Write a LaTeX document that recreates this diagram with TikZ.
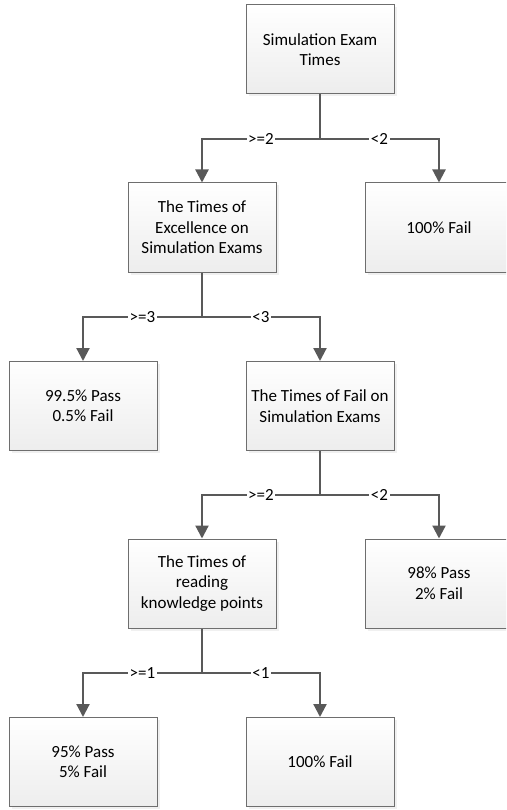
\documentclass[tikz,border=0pt]{standalone}
\usepackage{fontspec}
\setmainfont{Carlito}
\usetikzlibrary{arrows.meta,shadows}

\definecolor{linegray}{HTML}{595959}
\definecolor{boxedge}{HTML}{6E6E6E}
\definecolor{boxbottom}{HTML}{EDEDED}

\tikzset{
  box/.style={draw=boxedge, line width=1pt, minimum width=148pt, minimum height=89pt,
    align=center, inner sep=2pt, top color=white, bottom color=boxbottom,
    font=\fontsize{17}{20.5}\selectfont,
    drop shadow={shadow xshift=2.5pt, shadow yshift=-2.5pt, fill=gray!40, opacity=0.3}},
  link/.style={draw=linegray, line width=2.2pt},
  arrowlink/.style={link, -{Triangle[width=13pt,length=13pt]}},
  cond/.style={fill=white, inner sep=1.5pt, font=\fontsize{17}{19}\selectfont}
}

\begin{document}
\begin{tikzpicture}[x=1pt, y=-1pt]
  \clip (0,0) rectangle (506,810);
  \useasboundingbox (0,0) rectangle (506,810);

  % decision boxes and outcomes
  \node[box] (b1) at (320,49.5)  {Simulation Exam\\Times};
  \node[box] (b2) at (202,227.5) {The Times of\\Excellence on\\Simulation Exams};
  \node[box] (b3) at (439,227.5) {100\% Fail};
  \node[box] (b4) at (83,406)    {99.5\% Pass\\0.5\% Fail};
  \node[box] (b5) at (320,406)   {The Times of Fail on\\Simulation Exams};
  \node[box] (b6) at (202,583.5) {The Times of\\reading\\knowledge points};
  \node[box] (b7) at (439,583.5) {98\% Pass\\2\% Fail};
  \node[box] (b8) at (83,762)    {95\% Pass\\5\% Fail};
  \node[box] (b9) at (320,762)   {100\% Fail};

  % branching points
  \coordinate (j1) at (320,139);
  \coordinate (j2) at (202,317);
  \coordinate (j3) at (320,495);
  \coordinate (j4) at (202,673);

  % level 1
  \draw[link] (b1.south) -- (j1);
  \draw[arrowlink] (j1) -- node[cond] {>=2} (j1 -| b2) -- (b2.north);
  \draw[arrowlink] (j1) -- node[cond] {<2} (j1 -| b3) -- (b3.north);

  % level 2
  \draw[link] (b2.south) -- (j2);
  \draw[arrowlink] (j2) -- node[cond] {>=3} (j2 -| b4) -- (b4.north);
  \draw[arrowlink] (j2) -- node[cond] {<3} (j2 -| b5) -- (b5.north);

  % level 3
  \draw[link] (b5.south) -- (j3);
  \draw[arrowlink] (j3) -- node[cond] {>=2} (j3 -| b6) -- (b6.north);
  \draw[arrowlink] (j3) -- node[cond] {<2} (j3 -| b7) -- (b7.north);

  % level 4
  \draw[link] (b6.south) -- (j4);
  \draw[arrowlink] (j4) -- node[cond] {>=1} (j4 -| b8) -- (b8.north);
  \draw[arrowlink] (j4) -- node[cond] {<1} (j4 -| b9) -- (b9.north);
\end{tikzpicture}
\end{document}
